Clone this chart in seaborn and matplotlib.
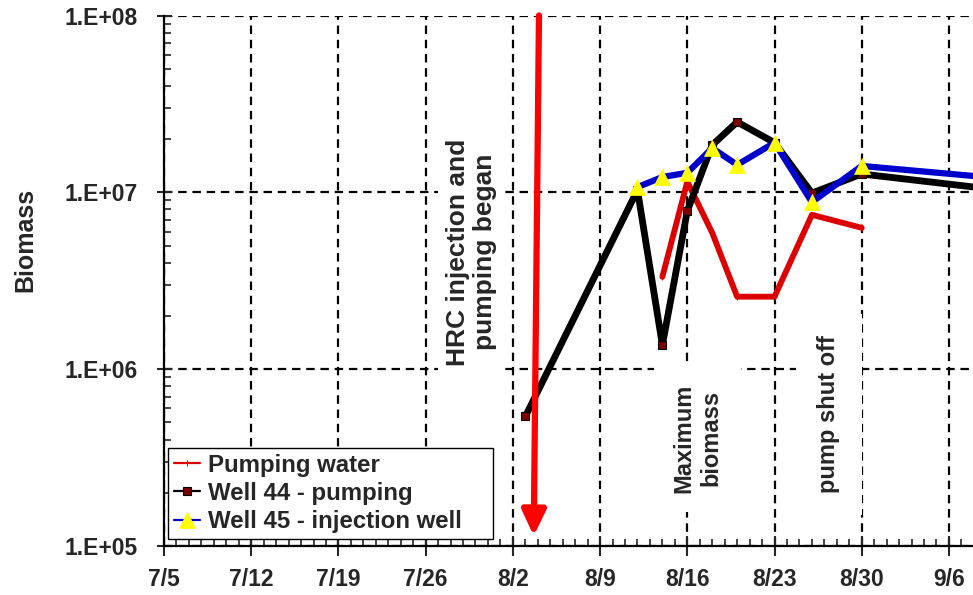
import numpy as np
import pandas as pd
import matplotlib
matplotlib.use("Agg")
import matplotlib.pyplot as plt
import matplotlib.dates as mdates
from matplotlib.ticker import FixedLocator, FuncFormatter, LogLocator, NullFormatter
import seaborn as sns

# Biomass readings per sampling date
pumping_dates = ["2000-08-14", "2000-08-16", "2000-08-18", "2000-08-20",
                 "2000-08-23", "2000-08-26", "2000-08-30"]
pumping_biomass = [3.33e6, 1.15e7, 5.9e6, 2.57e6, 2.57e6, 7.46e6, 6.3e6]

well44_dates = ["2000-08-03", "2000-08-12", "2000-08-14", "2000-08-16", "2000-08-18",
                "2000-08-20", "2000-08-23", "2000-08-26", "2000-08-30", "2000-09-13"]
well44_biomass = [5.4e5, 1.03e7, 1.37e6, 7.85e6, 1.85e7,
                  2.50e7, 1.91e7, 9.9e6, 1.27e7, 9.75e6]

well45_dates = ["2000-08-12", "2000-08-14", "2000-08-16", "2000-08-18",
                "2000-08-20", "2000-08-23", "2000-08-26", "2000-08-30", "2000-09-13"]
well45_biomass = [1.07e7, 1.22e7, 1.29e7, 1.78e7,
                  1.43e7, 1.91e7, 8.8e6, 1.41e7, 1.15e7]

series_names = ["Pumping water", "Well 44 - pumping", "Well 45 - injection well"]
week_labels = ["7/5", "7/12", "7/19", "7/26", "8/2", "8/9", "8/16", "8/23", "8/30", "9/6"]
y_ticks = [1e5, 1e6, 1e7, 1e8]
year = 2000

sns.set_style("white")
plt.rcParams["font.family"] = ["Liberation Sans", "DejaVu Sans"]
plt.rcParams["font.weight"] = "bold"
plt.rcParams["axes.labelweight"] = "bold"

fig = plt.figure(figsize=(9.73, 5.95), dpi=100)
ax = fig.add_axes([164 / 973, 49 / 595, 809 / 973, 530.5 / 595])

sns.lineplot(x=pd.to_datetime(pumping_dates), y=pumping_biomass, ax=ax,
             color="#DD0000", linewidth=4.2, marker="|", markersize=4,
             markeredgecolor="#DD0000", label=series_names[0], zorder=3)
sns.lineplot(x=pd.to_datetime(well44_dates), y=well44_biomass, ax=ax,
             color="black", linewidth=4.9, marker="s", markersize=5.5,
             markerfacecolor="#7A0000", markeredgecolor="black", markeredgewidth=0.8,
             label=series_names[1], zorder=4)
sns.lineplot(x=pd.to_datetime(well45_dates), y=well45_biomass, ax=ax,
             color="#0000CC", linewidth=4.5, marker="^", markersize=11,
             markerfacecolor="#FFFF00", markeredgecolor="#FFFF00", markeredgewidth=0.5,
             label=series_names[2], zorder=5)

# Axes scales and limits
ax.set_yscale("log")
ax.set_ylim(y_ticks[0], y_ticks[-1])
start = pd.Timestamp(f"{year}-07-05")
ax.set_xlim(start, start + pd.Timedelta(days=64.93))

week_pos = [mdates.date2num(pd.Timestamp(f"{year}/{lbl}")) for lbl in week_labels]
ax.xaxis.set_major_locator(FixedLocator(week_pos))
ax.xaxis.set_major_formatter(FuncFormatter(
    lambda v, p: f"{mdates.num2date(v).month}/{mdates.num2date(v).day}"))
ax.xaxis.set_minor_locator(mdates.DayLocator())

ax.yaxis.set_major_locator(FixedLocator(y_ticks))
ax.yaxis.set_major_formatter(FuncFormatter(lambda v, p: f"1.E+{int(round(np.log10(v))):02d}"))
ax.yaxis.set_minor_locator(LogLocator(base=10, subs=np.arange(2, 10)))
ax.yaxis.set_minor_formatter(NullFormatter())

ax.tick_params(axis="y", which="major", direction="inout", length=10.8, width=1.5,
               pad=13.3, labelsize=16.5, left=True, right=False)
ax.tick_params(axis="y", which="minor", direction="in", length=5, width=1.2,
               left=True, right=False)
ax.tick_params(axis="x", which="major", direction="inout", length=13.7, width=1.5,
               pad=9, labelsize=16.5, bottom=True, top=False)
ax.tick_params(axis="x", which="minor", direction="in", length=5, width=1.2,
               bottom=True, top=False)
for lbl in ax.get_xticklabels() + ax.get_yticklabels():
    lbl.set_fontweight("bold")

# Dashed grid
ax.grid(True, which="major", color="black", linestyle=(0, (3.8, 2.6)), linewidth=1.6)
ax.set_axisbelow(True)

for side in ("top", "right"):
    ax.spines[side].set_visible(False)
for side in ("left", "bottom"):
    ax.spines[side].set_color("black")
    ax.spines[side].set_linewidth(1.6)

ax.set_xlabel("")
ax.set_ylabel("Biomass", fontsize=18, fontweight="bold")
ax.yaxis.set_label_coords(-0.156, 0.576)

# Event notes
box = dict(boxstyle="square,pad=0.3", fc="white", ec="none")
ax.text(0.380, 0.554, "HRC injection and\npumping began", transform=ax.transAxes,
        rotation=90, ha="center", va="center", multialignment="center",
        fontsize=19, fontweight="bold", bbox=box, zorder=1.5)
ax.text(0.6595, 0.2036, "Maximum\nbiomass", transform=ax.transAxes,
        rotation=90, ha="center", va="center", multialignment="center",
        fontsize=17, fontweight="bold",
        bbox=dict(boxstyle="square,pad=0.8", fc="white", ec="none"), zorder=1.5)
ax.text(0.822, 0.248, "pump shut off", transform=ax.transAxes,
        rotation=90, ha="center", va="center",
        fontsize=17, fontweight="bold",
        bbox=dict(boxstyle="square,pad=0.9", fc="white", ec="none"), zorder=1.5)

ax.annotate("", xy=(0.457, 0.019), xytext=(0.4635, 1.0),
            xycoords="axes fraction", textcoords="axes fraction",
            arrowprops=dict(arrowstyle="-|>,head_length=0.38,head_width=0.18",
                            mutation_scale=40, color="#FF0000", lw=4.5,
                            shrinkA=0, shrinkB=0), zorder=6)

handles, labels = ax.get_legend_handles_labels()
leg = ax.legend(handles, labels, loc="lower left",
                bbox_to_anchor=(0.005, 0.013, 0.4017, 0.0), mode="expand",
                frameon=True, fancybox=False, edgecolor="black", framealpha=1,
                prop={"size": 17.3, "weight": "bold"}, handlelength=1.1,
                handletextpad=0.3, labelspacing=0.22, borderpad=0.25,
                borderaxespad=0)
leg.get_frame().set_linewidth(1.0)
for line in leg.get_lines():
    line.set_linewidth(1.6)
leg.set_zorder(10)

fig.savefig("out.png", dpi=100)
